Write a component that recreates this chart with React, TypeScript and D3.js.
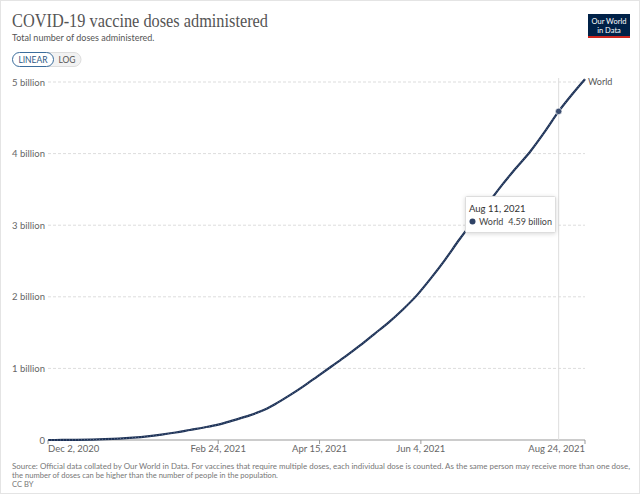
import React from 'react';
import * as d3 from 'd3';

// weekly readings of the World series (billions)
const dates = [
  '2020-12-02', '2020-12-09', '2020-12-16', '2020-12-23', '2020-12-30',
  '2021-01-06', '2021-01-13', '2021-01-20', '2021-01-27', '2021-02-03',
  '2021-02-10', '2021-02-17', '2021-02-24', '2021-03-03', '2021-03-10',
  '2021-03-17', '2021-03-24', '2021-03-31', '2021-04-07', '2021-04-14',
  '2021-04-21', '2021-04-28', '2021-05-05', '2021-05-12', '2021-05-19',
  '2021-05-26', '2021-06-02', '2021-06-09', '2021-06-16', '2021-06-23',
  '2021-06-30', '2021-07-07', '2021-07-14', '2021-07-21', '2021-07-28',
  '2021-08-04', '2021-08-11', '2021-08-18', '2021-08-24',
];
const worldDoses = [
  0, 0.0005, 0.002, 0.006, 0.011,
  0.019, 0.032, 0.05, 0.075, 0.105,
  0.14, 0.175, 0.215, 0.27, 0.33,
  0.4, 0.5, 0.62, 0.75, 0.89,
  1.03, 1.17, 1.32, 1.48, 1.64,
  1.82, 2.02, 2.26, 2.52, 2.8,
  3.06, 3.3, 3.56, 3.8, 4.03,
  4.3, 4.59, 4.84, 5.04,
];
const yTicks = [0, 1, 2, 3, 4, 5];
const yTickLabels = ['0', '1 billion', '2 billion', '3 billion', '4 billion', '5 billion'];
const xTickDates = ['2020-12-02', '2021-02-24', '2021-04-15', '2021-06-04', '2021-08-24'];
const xTickLabels = ['Dec 2, 2020', 'Feb 24, 2021', 'Apr 15, 2021', 'Jun 4, 2021', 'Aug 24, 2021'];
const hoverDate = '2021-08-11';
const hoverLabel = 'Aug 11, 2021';
const hoverValue = '4.59 billion';

const W = 640;
const H = 494;
const m = { left: 48, right: 55, top: 82, bottom: 54 };

const parse = d3.utcParse('%Y-%m-%d');
const font = 'Lato, "Open Sans", sans-serif';
const lineColor = '#1e3256';

export default function App() {
  const x = d3
    .scaleUtc()
    .domain([parse(dates[0])!, parse(dates[dates.length - 1])!])
    .range([m.left, W - m.right]);
  const y = d3.scaleLinear().domain([0, 5]).range([H - m.bottom, m.top]);

  const points = dates.map((d, i) => ({ date: parse(d)!, v: worldDoses[i] }));
  const line = d3
    .line<{ date: Date; v: number }>()
    .x(d => x(d.date))
    .y(d => y(d.v))
    .curve(d3.curveMonotoneX);

  const hx = x(parse(hoverDate)!);
  const hIdx = dates.indexOf(hoverDate);
  const hy = y(worldDoses[hIdx]);
  const last = points[points.length - 1];

  return (
    <svg width={W} height={H} style={{ position: 'absolute', left: 0, top: 0, background: '#fff' }}>
      <rect x={0.5} y={0.5} width={W - 1} height={H - 1} fill="#fff" stroke="#e4e4e4" />

      {/* header */}
      <text x={12} y={27} fontFamily='"Liberation Serif", "Times New Roman", serif' fontSize={19} fill="#555"
        textLength={256} lengthAdjust="spacingAndGlyphs">
        COVID-19 vaccine doses administered
      </text>
      <text x={12} y={41} fontFamily={font} fontSize={9} fill="#555">
        Total number of doses administered.
      </text>
      <rect x={27} y={52.5} width={54} height={14} rx={7} fill="#f2f2f2" stroke="#ddd" />
      <rect x={12.5} y={52.5} width={41} height={14} rx={7} fill="#fff" stroke="#3b6d9c" />
      <text x={33} y={63} textAnchor="middle" fontFamily={font} fontSize={8.5} fill="#2e5a86">LINEAR</text>
      <text x={67} y={63} textAnchor="middle" fontFamily={font} fontSize={8.5} fill="#555">LOG</text>

      {/* logo */}
      <rect x={588} y={14} width={42} height={24} fill="#002147" />
      <rect x={588} y={36} width={42} height={2} fill="#ce261e" />
      <text x={609} y={24} textAnchor="middle" fontFamily={font} fontSize={7.5} fill="#fff">Our World</text>
      <text x={609} y={33} textAnchor="middle" fontFamily={font} fontSize={7.5} fill="#fff">in Data</text>

      {/* gridlines + y labels */}
      {yTicks.map((t, i) => (
        <g key={t}>
          {t > 0 && (
            <line x1={m.left} x2={W - m.right} y1={y(t)} y2={y(t)} stroke="#ddd" strokeDasharray="3,2" />
          )}
          <text x={t > 0 ? 12 : 45} y={y(t) + 3.5} textAnchor={t > 0 ? 'start' : 'end'}
            fontFamily={font} fontSize={9.5} fill="#666">
            {yTickLabels[i]}
          </text>
        </g>
      ))}

      {/* x axis */}
      <line x1={m.left} x2={W - m.right} y1={y(0)} y2={y(0)} stroke="#999" />
      {xTickDates.map((d, i) => {
        const tx = x(parse(d)!);
        const anchor = i === 0 ? 'start' : i === xTickDates.length - 1 ? 'end' : 'middle';
        return (
          <g key={d}>
            <line x1={tx} x2={tx} y1={y(0)} y2={y(0) + 4} stroke="#999" />
            <text x={tx} y={452} textAnchor={anchor} fontFamily={font} fontSize={9.5} fill="#666">
              {xTickLabels[i]}
            </text>
          </g>
        );
      })}

      {/* hover line */}
      <line x1={hx} x2={hx} y1={m.top - 4} y2={y(0)} stroke="#ddd" />

      {/* series */}
      <path d={line(points) ?? ''} fill="none" stroke={lineColor} strokeWidth={2.2} />
      <path d={line(points) ?? ''} fill="none" stroke="#5a6e90" strokeWidth={1} strokeDasharray="1,2" />
      <circle cx={hx} cy={hy} r={3.2} fill="#3c4e70" stroke="#fff" strokeWidth={0.6} />
      <text x={x(last.date) + 3} y={y(last.v) + 6} fontFamily={font} fontSize={9} fill="#555">World</text>

      {/* tooltip */}
      <rect x={465.5} y={196.5} width={90} height={36} fill="#fff" stroke="#ddd" rx={1}
        style={{ filter: 'drop-shadow(0 1px 2px rgba(0,0,0,0.15))' }} />
      <text x={469} y={212} fontFamily={font} fontSize={9.5} fill="#333">{hoverLabel}</text>
      <circle cx={472.5} cy={221.5} r={3} fill="#2f4266" />
      <text x={479} y={225} fontFamily={font} fontSize={9} fill="#444">World</text>
      <text x={552} y={225} textAnchor="end" fontFamily={font} fontSize={9} fill="#444">{hoverValue}</text>

      {/* footer */}
      <text x={12} y={469} fontFamily={font} fontSize={7.6} fill="#777" textLength={618} lengthAdjust="spacingAndGlyphs">
        Source: Official data collated by Our World in Data. For vaccines that require multiple doses, each individual dose is counted. As the same person may receive more than one dose,
      </text>
      <text x={12} y={478} fontFamily={font} fontSize={7.6} fill="#777">
        the number of doses can be higher than the number of people in the population.
      </text>
      <text x={12} y={487} fontFamily={font} fontSize={7.6} fill="#777">CC BY</text>
    </svg>
  );
}
